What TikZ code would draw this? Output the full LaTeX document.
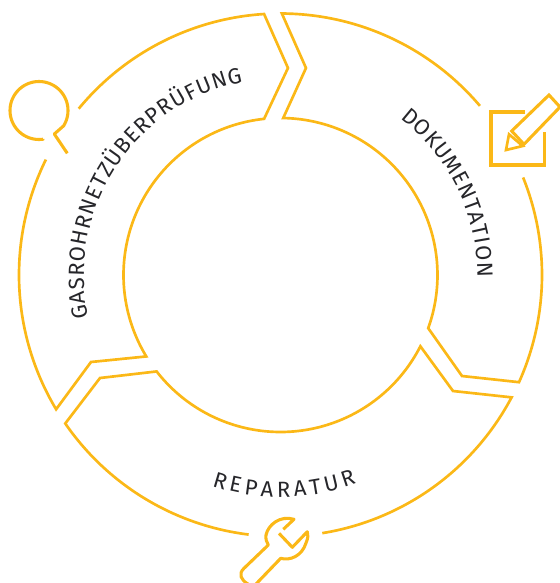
\documentclass[tikz,border=0pt]{standalone}
\usepackage{fontspec}
\setmainfont{Fira Sans}
\usetikzlibrary{decorations.text}
\definecolor{ringc}{HTML}{FBB817}
\definecolor{txtc}{HTML}{26262A}
\newcommand{\rarc}[3]{plot[domain=#1:#2,samples=80] ({280.5+#3*cos(\x)},{275+#3*sin(\x)})}
\newcommand{\larc}[3]{-- plot[domain=#1:#2,samples=80] ({280.5+#3*cos(\x)},{275+#3*sin(\x)})}
\tikzset{
  ring/.style={draw=ringc,line width=2pt,line join=miter,miter limit=8},
  icon/.style={draw=ringc,line width=2.3pt,line join=round},
  ringtext/.style={decoration={text along path,text align={fit to path},raise=0pt,
      text={|\fontsize{16.5}{18}\selectfont\color{txtc}|#1}},decorate}
}
\begin{document}
\begin{tikzpicture}[x=0.75pt,y=-0.75pt]
\useasboundingbox (0,0) rectangle (560,583);
\clip (0,0) rectangle (560,583);
% Gasrohrnetzueberpruefung segment
\draw[ring] \rarc{219.5}{266.4}{261.5} -- (288,68) \larc{264}{148.75}{157} -- (91,362) \larc{149.1}{206.2}{261.5};
% Dokumentation segment
\draw[ring] \rarc{-40.3}{-89.7}{261.5} -- (306,68) \larc{-89}{19.8}{157} -- (462,376) \larc{24.2}{-21.9}{261.5};
% Reparatur segment
\draw[ring] \rarc{80.8}{27.9}{261.5} -- (453,391) \larc{27}{142.1}{157} -- (100,378) \larc{145.4}{97}{261.5};
% labels
\path[ringtext={GASROHRNETZÜBERPRÜFUNG}] \rarc{167.4}{259}{196.5};
\path[ringtext={DOKUMENTATION}] \rarc{-52.6}{0.6}{197};
\path[ringtext={REPARATUR}] \rarc{108}{70}{222};
% magnifier
\draw[icon] (43,139) -- plot[domain=82:392,samples=80] ({39+29*cos(\x)},{110.5+29*sin(\x)}) -- (54.3,134) -- (67.3,153.3);
% note and pencil
\draw[icon,line width=2.6pt,line join=miter] (525,112) -- (491,112) -- (491,165) -- (544.3,165) -- (544.3,132);
\draw[icon,line join=miter] (560,107) -- (524,144.3) -- (511.7,131) -- (549,95) -- (560,107);
\draw[icon,line width=2pt,line join=miter] (509,134.3) -- (506,150) -- (522.7,146) -- cycle;
% wrench
\draw[icon] (283.3,529.3) -- (294,519.3) .. controls (280,515) and (268,525) .. (266,535) .. controls (265.5,539) and (266.5,542) .. (268.3,545) -- (244,568.3) .. controls (238,574) and (241,580) .. (248,584);
\draw[icon] (256,584) -- (280.7,558.3) .. controls (290,561) and (302,556) .. (306,543) .. controls (308,538) and (308.5,535) .. (307.3,531.7) -- (292.3,547.3) -- (279,533.3);
\end{tikzpicture}
\end{document}
